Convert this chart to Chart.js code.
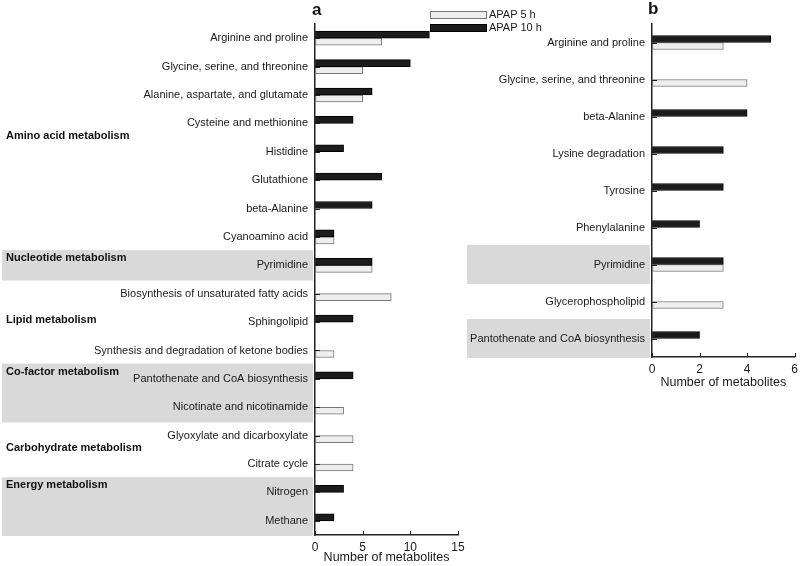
<!DOCTYPE html>
<html>
<head>
<meta charset="utf-8">
<script src="https://cdn.jsdelivr.net/npm/chart.js@4/dist/chart.umd.min.js"></script>
<style>
  body { margin: 0; background: #fff; width: 800px; height: 566px; position: relative; overflow: hidden; font-family: "Liberation Sans", Arial, sans-serif; }
  #boxA { position: absolute; left: 0; top: 0; width: 470px; height: 566px; }
  #boxB { position: absolute; left: 462px; top: 0; width: 341px; height: 391px; }
  .panel { position: absolute; font-weight: bold; font-size: 17px; color: #111; line-height: 1; }
  .leg { position: absolute; left: 430px; font-size: 11px; color: #1a1a1a; line-height: 1; }
  .leg span { display: inline-block; width: 57px; height: 8px; vertical-align: middle; margin-right: 2px; box-sizing: border-box; }
</style>
</head>
<body>
<div id="boxA"><canvas id="chartA"></canvas></div>
<div id="boxB"><canvas id="chartB"></canvas></div>
<div class="panel" style="left:312px;top:1px">a</div>
<div class="panel" style="left:648px;top:0px">b</div>
<div class="leg" style="top:9px"><span style="background:#eeeeee;border:1px solid #777"></span>APAP 5 h</div>
<div class="leg" style="top:22px"><span style="background:#1c1c1c;border:1px solid #000"></span>APAP 10 h</div>
<script>
/* 데이터 - panel a */
const catsA = ['Arginine and proline', 'Glycine, serine, and threonine', 'Alanine, aspartate, and glutamate',
  'Cysteine and methionine', 'Histidine', 'Glutathione', 'beta-Alanine', 'Cyanoamino acid', 'Pyrimidine',
  'Biosynthesis of unsaturated fatty acids', 'Sphingolipid', 'Synthesis and degradation of ketone bodies',
  'Pantothenate and CoA biosynthesis', 'Nicotinate and nicotinamide', 'Glyoxylate and dicarboxylate',
  'Citrate cycle', 'Nitrogen', 'Methane'];
const fiveA = [7, 5, 5, 0, 0, 0, 0, 2, 6, 8, 0, 2, 0, 3, 4, 4, 0, 0];
const tenA  = [12, 10, 6, 4, 3, 7, 6, 2, 6, 0, 4, 0, 4, 0, 0, 0, 3, 2];
const xTicksA = [0, 5, 10, 15];

const groupNames  = ['Amino acid metabolism', 'Nucleotide metabolism', 'Lipid metabolism',
  'Co-factor metabolism', 'Carbohydrate metabolism', 'Energy metabolism'];
const groupFirst  = [0, 8, 9, 12, 14, 16];
const groupLast   = [7, 8, 11, 13, 15, 17];
const groupShaded = [false, true, false, true, false, true];

/* 데이터 - panel b */
const catsB = ['Arginine and proline', 'Glycine, serine, and threonine', 'beta-Alanine', 'Lysine degradation',
  'Tyrosine', 'Phenylalanine', 'Pyrimidine', 'Glycerophospholipid', 'Pantothenate and CoA biosynthesis'];
const fiveB = [3, 4, 0, 0, 0, 0, 3, 3, 0];
const tenB  = [5, 0, 4, 3, 3, 2, 3, 0, 2];
const xTicksB = [0, 2, 4, 6];
const shadedB = [6, 8];

const FONT = '"Liberation Sans", Arial, sans-serif';

// 회색 배경 + 그룹 이름 + 안쪽 눈금
const bandPlugin = {
  id: 'bands',
  beforeDraw(chart, args, opts) {
    const y = chart.scales.y;
    const ctx = chart.ctx;
    const half = (y.getPixelForValue(1) - y.getPixelForValue(0)) / 2;
    ctx.save();
    ctx.fillStyle = '#d9d9d9';
    opts.bands.forEach(([a, b]) => {
      const top = y.getPixelForValue(a) - half - 1;
      const bot = y.getPixelForValue(b) + half + 1;
      ctx.fillRect(opts.x0, top, chart.chartArea.left - 2 - opts.x0, bot - top);
    });
    ctx.restore();
  },
  afterDraw(chart, args, opts) {
    const ctx = chart.ctx;
    const x = chart.scales.x, y = chart.scales.y;
    const area = chart.chartArea;
    ctx.save();
    ctx.strokeStyle = '#222';
    ctx.lineWidth = 1;
    ctx.beginPath();
    x.ticks.forEach((t, i) => {
      const px = Math.round(x.getPixelForTick(i)) + 0.5;
      ctx.moveTo(px, area.bottom);
      ctx.lineTo(px, area.bottom - 4);
    });
    y.ticks.forEach((t, i) => {
      const py = Math.round(y.getPixelForTick(i)) + 0.5;
      ctx.moveTo(area.left, py);
      ctx.lineTo(area.left + 5, py);
    });
    ctx.stroke();

    if (opts.groups) {
      ctx.fillStyle = '#111';
      ctx.font = 'bold 11px ' + FONT;
      ctx.textBaseline = 'middle';
      ctx.textAlign = 'left';
      groupNames.forEach((name, g) => {
        let py;
        if (groupShaded[g]) {
          py = y.getPixelForValue(groupFirst[g]) - 7;
        } else {
          py = (y.getPixelForValue(groupFirst[g]) + y.getPixelForValue(groupLast[g])) / 2 - 2;
        }
        ctx.fillText(name, 6, py);
      });
    }
    ctx.restore();
  }
};

function makeChart(id, cats, five, ten, xMax, xStep, yWidth, xHeight, padRight, bands, x0, groups) {
  return new Chart(document.getElementById(id), {
    type: 'bar',
    data: {
      labels: cats,
      datasets: [{
        label: 'APAP 10 h',
        data: ten.map(v => v || null),
        backgroundColor: '#1c1c1c',
        borderColor: '#000',
        borderWidth: 1,
        borderSkipped: false,
        barThickness: 7
      }, {
        label: 'APAP 5 h',
        data: five.map(v => v || null),
        backgroundColor: '#eeeeee',
        borderColor: '#777',
        borderWidth: 1,
        borderSkipped: false,
        barThickness: 7
      }]
    },
    options: {
      indexAxis: 'y',
      responsive: true,
      maintainAspectRatio: false,
      animation: false,
      layout: { padding: { top: 24, right: padRight, left: 0, bottom: 0 } },
      plugins: {
        legend: { display: false },
        tooltip: { enabled: false },
        bands: { bands: bands, x0: x0, groups: groups }
      },
      scales: {
        x: {
          min: 0,
          max: xMax,
          ticks: { stepSize: xStep, color: '#1a1a1a', font: { size: 12, family: FONT }, padding: 5 },
          grid: { drawOnChartArea: false, drawTicks: false },
          border: { color: '#222', width: 1.5 },
          title: { display: true, text: 'Number of metabolites', color: '#1a1a1a', font: { size: 12.5, family: FONT }, padding: { top: 0, bottom: 1 } },
          afterFit: (s) => { s.height = xHeight; }
        },
        y: {
          ticks: { color: '#1a1a1a', font: { size: 11, family: FONT }, padding: 7, autoSkip: false },
          grid: { drawOnChartArea: false, drawTicks: false },
          border: { color: '#222', width: 1.5 },
          afterFit: (s) => { s.width = yWidth; }
        }
      }
    },
    plugins: [bandPlugin]
  });
}

const bandsA = groupFirst.map((f, g) => [f, groupLast[g]]).filter((b, g) => groupShaded[g]);
const bandsB = shadedB.map(i => [i, i]);

makeChart('chartA', catsA, fiveA, tenA, xTicksA[xTicksA.length - 1], xTicksA[1] - xTicksA[0], 315, 31, 12, bandsA, 2, true);
makeChart('chartB', catsB, fiveB, tenB, xTicksB[xTicksB.length - 1], xTicksB[1] - xTicksB[0], 190, 34, 2, bandsB, 5, false);
</script>
</body>
</html>
